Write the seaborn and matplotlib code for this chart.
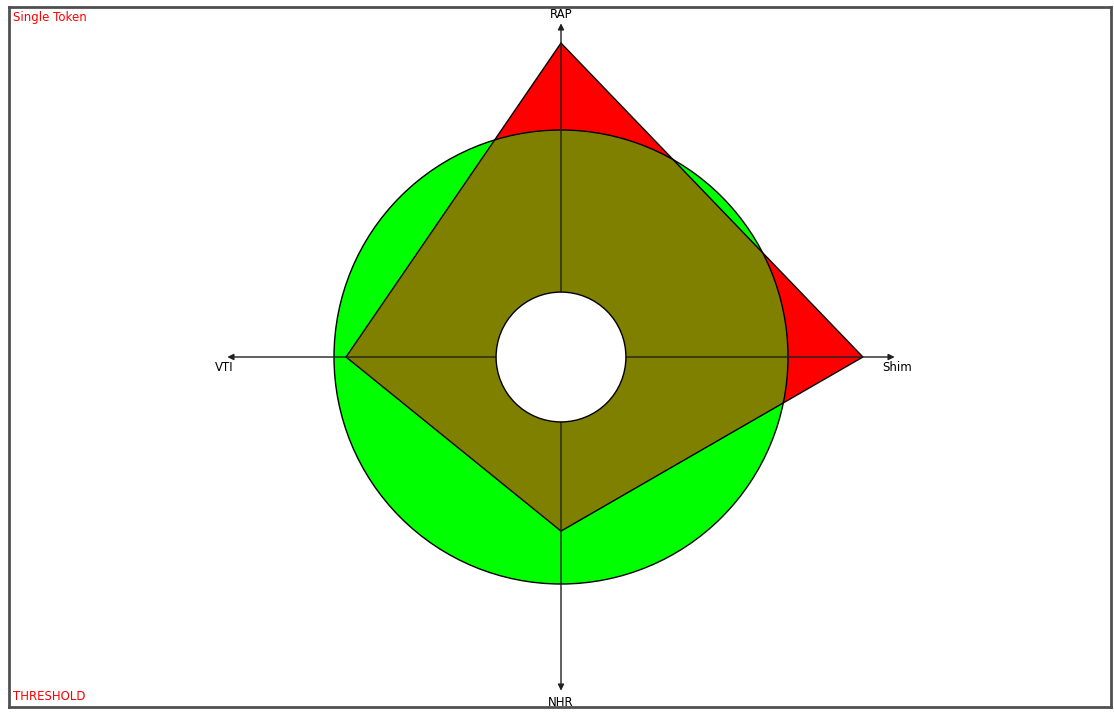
import numpy as np
import pandas as pd
import matplotlib
matplotlib.use('Agg')
import matplotlib.pyplot as plt
from matplotlib.patches import Circle, Polygon
import seaborn as sns

# radar axes (clockwise from top) and token scores, threshold circle = 1.0
axes_names = ['RAP', 'Shim', 'NHR', 'VTI']
angles_deg = [90, 0, 270, 180]
scores = [1.383, 1.330, 0.767, 0.947]
threshold = 1.0
inner_radius = 0.286
axis_length = 1.47

title_text = 'Single Token'
threshold_text = 'THRESHOLD'

sns.set_style('white')
plt.rcParams['font.family'] = ['DejaVu Sans']

W, H = 1114, 713
fig = plt.figure(figsize=(W / 100, H / 100), dpi=100)
fig.patch.set_facecolor('white')

# axes box = the grey frame (x 9..1111, y 7..707 in pixels)
ax = fig.add_axes([9 / W, (H - 707) / H, 1102 / W, 700 / H])
scale = 227.0
ax.set_xlim(-552 / scale, 550 / scale)
ax.set_ylim(-350 / scale, 350 / scale)
ax.set_xticks([])
ax.set_yticks([])
for s in ax.spines.values():
    s.set_color('#505050')
    s.set_linewidth(2)

ang = np.deg2rad(angles_deg)
df = pd.DataFrame({'axis': axes_names,
                   'x': np.array(scores) * np.cos(ang),
                   'y': np.array(scores) * np.sin(ang)})
pts = df[['x', 'y']].to_numpy()

# threshold circle (green)
ax.add_patch(Circle((0, 0), threshold, facecolor='#00ff00', edgecolor='none', zorder=1))
# token polygon (red)
ax.add_patch(Polygon(pts, closed=True, facecolor='#ff0000', edgecolor='none', zorder=2))
# overlap (olive)
clip = Circle((0, 0), threshold, transform=ax.transData)
olive = Polygon(pts, closed=True, facecolor='#808000', edgecolor='none', zorder=3)
ax.add_patch(olive)
olive.set_clip_path(clip)

# outlines
ax.add_patch(Circle((0, 0), threshold, facecolor='none', edgecolor='black', lw=1, zorder=4))
closed = pd.concat([df, df.iloc[[0]]], ignore_index=True)
sns.lineplot(data=closed, x='x', y='y', sort=False, estimator=None,
             color='black', lw=1, ax=ax, zorder=4)

# axis arrows
for a in ang:
    ax.annotate('', xy=(axis_length * np.cos(a), axis_length * np.sin(a)), xytext=(0, 0),
                arrowprops=dict(arrowstyle='-|>', color='#202020', lw=1,
                                mutation_scale=9, shrinkA=0, shrinkB=0),
                zorder=5)

# inner hole
ax.add_patch(Circle((0, 0), inner_radius, facecolor='white', edgecolor='black', lw=1, zorder=6))

# axis labels
label_pos = {'RAP': (0, 1.511), 'Shim': (1.480, -0.048),
             'NHR': (0, -1.520), 'VTI': (-1.485, -0.048)}
for name in axes_names:
    x, y = label_pos[name]
    ax.text(x, y, name, ha='center', va='center', fontsize=8.5, color='black', zorder=7)

ax.text(4 / 1102, 1 - 11 / 700, title_text, transform=ax.transAxes,
        ha='left', va='center', fontsize=8.5, color='#ff0000')
ax.text(4 / 1102, 10 / 700, threshold_text, transform=ax.transAxes,
        ha='left', va='center', fontsize=8.5, color='#ff0000')

ax.set_xlabel('')
ax.set_ylabel('')
fig.savefig('out.png', dpi=100)
